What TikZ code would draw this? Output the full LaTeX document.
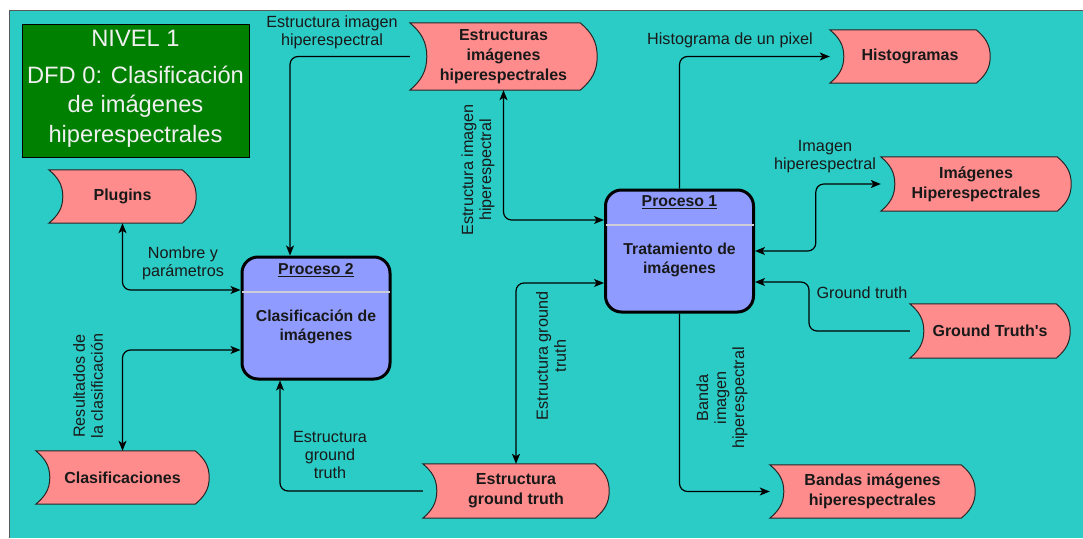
\documentclass[tikz,border=0pt]{standalone}
\usepackage{fontspec}
\setmainfont{Liberation Sans}
% same family without the TeX quote mapping, for a straight apostrophe
\newfontfamily\plainsans{Liberation Sans}
\usetikzlibrary{arrows.meta,calc}
\pgfdeclarelayer{background}
\pgfsetlayers{background,main}
\definecolor{panel}{RGB}{43,204,198}
\definecolor{storefill}{RGB}{255,140,140}
\definecolor{procfill}{RGB}{143,155,255}
\definecolor{titlefill}{RGB}{0,128,0}
\definecolor{sepline}{RGB}{205,205,218}
\definecolor{ink}{RGB}{25,25,25}

\begin{document}
\begin{tikzpicture}[x=1pt,y=-1pt,
  lbl/.style={font=\fontsize{16.2}{18}\selectfont, align=center, inner sep=0pt, text=ink},
  store/.style={font=\bfseries\fontsize{16}{20}\selectfont, align=center, inner sep=0pt, text=ink},
  proc/.style={draw=black, line width=3pt, fill=procfill, rounded corners=16pt,
    minimum width=148pt, minimum height=122pt, inner sep=0pt},
  ptext/.style={font=\bfseries\fontsize{15.8}{19}\selectfont, align=center, inner sep=0pt, text=ink},
  titletext/.style={font=\fontsize{23.7}{29.5}\selectfont, align=center, inner sep=0pt, text=white!94!black},
  flow/.style={draw=black, line width=1.2pt, rounded corners=8pt,
    >={Stealth[length=10pt,width=8pt,inset=2.5pt]}},
  sep/.style={draw=sepline, line width=2pt},
]
\useasboundingbox (0,0) rectangle (1083,538);

% page and panel
\begin{pgfonlayer}{background}
  \fill[white] (0,0) rectangle (1083,538);
  \fill[panel] (9,10) rectangle (1083,538);
  \draw[black!65, line width=0.8pt] (9,538) -- (9,10) -- (1083,10);
\end{pgfonlayer}

% title block
\node[draw=black, line width=0.8pt, fill=titlefill, minimum width=227pt, minimum height=133pt, inner sep=0pt] (title) at (135.5,90.5) {};
\node[titletext] (nivel) at (135.5,38) {NIVEL 1};
\node[titletext] (dfd) at (135.5,106.5) {DFD 0: Clasificación\\de imágenes\\hiperespectrales};

% data stores
\node[store, minimum width=147pt, minimum height=53pt] (pl) at (122.5,196.5) {Plugins};
\node[store, minimum width=173pt, minimum height=53pt] (cl) at (122.5,477.5) {Clasificaciones};
\node[store, minimum width=187pt, minimum height=67pt] (es) at (503.5,56.5) {Estructuras\\imágenes\\hiperespectrales};
\node[store, minimum width=186pt, minimum height=54pt] (egt) at (516,491) {Estructura\\ground truth};
\node[store, minimum width=160pt, minimum height=53pt] (hi) at (910,56.5) {Histogramas};
\node[store, minimum width=190pt, minimum height=54pt] (ih) at (976,184) {Imágenes\\Hiperespectrales};
\node[store, minimum width=160pt, minimum height=54pt] (gt) at (990,331) {Ground Truth{\plainsans\bfseries '}s};
\node[store, minimum width=205pt, minimum height=53pt] (bd) at (872.5,491.5) {Bandas imágenes\\hiperespectrales};

\begin{pgfonlayer}{background}
  \foreach \s/\c in {pl/14,cl/14,es/17,egt/14,hi/14,ih/14,gt/14,bd/14}
    \path[fill=storefill, draw=black!85, line width=1pt]
      (\s.north west) to[out=-40,in=90] ([xshift=\c pt]\s.west)
      to[out=-90,in=40] (\s.south west)
      -- ([xshift=-\c pt]\s.south east) to[out=40,in=-90] (\s.east)
      to[out=90,in=-40] ([xshift=-\c pt]\s.north east) -- cycle;
\end{pgfonlayer}

% processes
\node[proc] (p2) at (316,318) {};
\node[proc] (p1) at (679.5,251) {};
\draw[sep] ([xshift=1.5pt,yshift=-36.5pt]p2.north west) -- ([xshift=-1.5pt,yshift=-36.5pt]p2.north east);
\draw[sep] ([xshift=1.5pt,yshift=-36.5pt]p1.north west) -- ([xshift=-1.5pt,yshift=-36.5pt]p1.north east);
\node[ptext] (p2h) at ([yshift=-15pt]p2.north) {\underline{Proceso 2}};
\node[ptext] (p2b) at ([yshift=-71.5pt]p2.north) {Clasificación de\\imágenes};
\node[ptext] (p1h) at ([yshift=-14pt]p1.north) {\underline{Proceso 1}};
\node[ptext] (p1b) at ([yshift=-71.5pt]p1.north) {Tratamiento de\\imágenes};

% data flows
\draw[flow,<-] ([xshift=-26pt]p2.north) |- (es.west);
\draw[flow,<->] (es.south) |- ([yshift=31pt]p1.west);
\draw[flow,<->] (egt.north) |- ([yshift=-32pt]p1.west);
\draw[flow,<-] ([xshift=-36pt]p2.south) |- (egt.west);
\draw[flow,<->] (pl.south) |- ([yshift=28pt]p2.west);
\draw[flow,<->] (cl.north) |- ([yshift=-32pt]p2.west);
\draw[flow,->] (p1.north) |- (hi.west);
\draw[flow,<->] (p1.east) -| ([xshift=-65pt]ih.west) -- (ih.west);
\draw[flow,->] (gt.west) -| ([xshift=54pt,yshift=-31pt]p1.east) -- ([yshift=-31pt]p1.east);
\draw[flow,->] (p1.south) |- (bd.west);

% flow labels
\node[lbl] (l1) at (332,32.5) {Estructura imagen\\hiperespectral};
\node[lbl, rotate=90] (l2) at (478,170) {Estructura imagen\\hiperespectral};
\node[lbl, rotate=90] (l3) at (551,356) {Estructura ground\\truth};
\node[lbl] (l4) at (330,455) {Estructura\\ground\\truth};
\node[lbl] (l5) at (183,263.5) {Nombre y\\parámetros};
\node[lbl, rotate=90] (l6) at (88,386) {Resultados de\\la clasificación};
\node[lbl] (l7) at (730,40) {Histograma de un pixel};
\node[lbl] (l8) at (825,157) {Imagen\\hiperespectral};
\node[lbl] (l9) at (862,293) {Ground truth};
\node[lbl, rotate=90] (l10) at (722,398) {Banda\\imagen\\hiperespectral};
\end{tikzpicture}
\end{document}
